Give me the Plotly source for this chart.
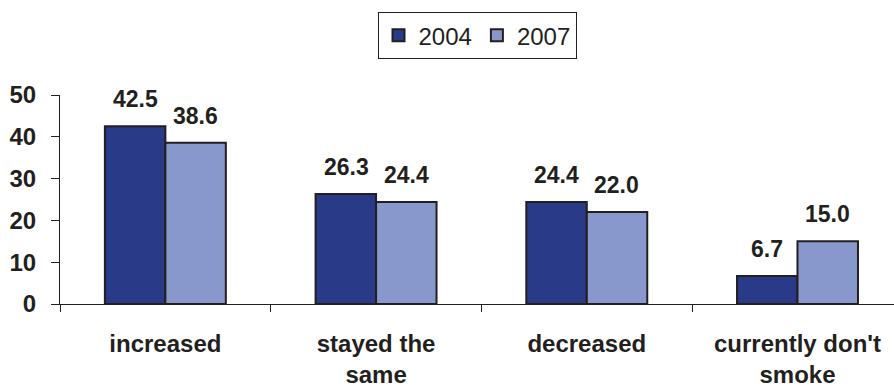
import plotly.graph_objects as go

categories = ["increased", "stayed the<br>same", "decreased", "currently don't<br>smoke"]
series_names = ["2004", "2007"]
values_2004 = [42.5, 26.3, 24.4, 6.7]
values_2007 = [38.6, 24.4, 22.0, 15.0]
y_ticks = [0, 10, 20, 30, 40, 50]

colors = ["#293a88", "#8898cc"]
FONT = "Arial, Liberation Sans, sans-serif"

fig = go.Figure()
for name, vals, col in zip(series_names, [values_2004, values_2007], colors):
    fig.add_trace(go.Bar(
        x=categories, y=vals, name=name,
        marker=dict(color=col, line=dict(color="#231f20", width=2)),
    ))

annotations = []
for vals, shift in [(values_2004, -30), (values_2007, 30)]:
    for c, v in zip(categories, vals):
        annotations.append(dict(
            x=c, y=v, xref="x", yref="y", text=f"<b>{v:.1f}</b>",
            showarrow=False, xshift=shift, yshift=12, yanchor="bottom",
            font=dict(family=FONT, size=23, color="#231f20"),
        ))

fig.update_layout(
    width=894, height=390,
    margin=dict(l=60, r=0, t=95, b=86, autoexpand=False),
    paper_bgcolor="white", plot_bgcolor="white",
    barmode="group", bargap=0.426, bargroupgap=0,
    font=dict(family=FONT, color="#231f20"),
    showlegend=True,
    legend=dict(
        orientation="h", x=0.5, xanchor="center", xref="paper",
        y=1.397, yanchor="top",
        font=dict(family=FONT, size=24, color="#231f20"),
        bordercolor="#231f20", borderwidth=1,
        itemwidth=30, tracegroupgap=0,
    ),
    annotations=annotations,
)
fig.update_xaxes(
    range=[-0.5, 3.458], automargin=False,
    showline=True, linecolor="#231f20", linewidth=1,
    ticks="outside", tickson="boundaries", ticklen=7, tickcolor="#231f20",
    tickfont=dict(family=FONT, size=24, color="#231f20"),
    tickprefix="<b>", ticksuffix="</b>",
    ticklabelstandoff=18,
    showgrid=False, zeroline=False,
)
fig.update_yaxes(
    range=[0, 50], tickvals=y_ticks, automargin=False,
    ticktext=[f"<b>{t}</b>" for t in y_ticks],
    showline=True, linecolor="#231f20", linewidth=1,
    ticks="outside", ticklen=8, tickcolor="#231f20",
    tickfont=dict(family=FONT, size=24, color="#231f20"),
    ticklabelstandoff=10,
    showgrid=False, zeroline=False,
)

fig.write_html("out.html")
